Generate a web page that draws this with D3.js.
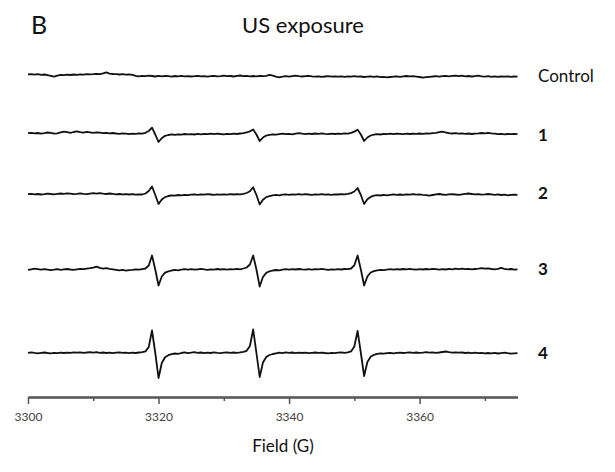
<!DOCTYPE html>
<html><head><meta charset="utf-8">
<script src="https://cdn.jsdelivr.net/npm/d3@7"></script>
<style>body{margin:0;background:#fff} svg{display:block}</style>
</head><body><svg id="c" width="615" height="472"></svg>
<script>
// ---- data ----
const seriesNames = ["Control", "1", "2", "3", "4"];
const fieldStart = 3300, fieldStep = 0.5;   // sampling grid (G)
const majorTicks = [3300, 3320, 3340, 3360];
const minorTicks = [3310, 3330, 3350, 3370];

const control = [
 1.6,1.9,1.4,1.8,1.2,1.5,0.9,0.2,-0.6,0.4,
 1.1,0.8,1.3,1.0,1.5,1.2,1.7,1.4,1.9,1.6,
 1.8,2.2,1.9,2.6,3.6,2.4,2.0,1.8,1.5,1.9,
 1.4,1.7,1.2,0.2,-0.4,0.1,-0.2,0.3,0.0,-0.5,
 0.1,-0.3,0.2,-0.2,-0.6,0.0,-0.3,0.1,-0.4,-0.1,
 -0.5,-0.2,0.2,-0.3,-0.1,-0.6,-0.2,0.1,-0.4,-0.1,
 0.3,-0.2,0.0,-0.5,0.1,0.5,-0.1,0.2,-0.3,0.0,
 -0.4,0.1,-0.2,0.2,1.2,0.4,-0.6,-1.3,-0.7,-0.2,
 -0.6,-0.1,0.3,-0.2,-0.5,-0.1,0.2,-0.3,-0.7,-0.4,
 -0.9,-0.5,-0.2,-0.6,-0.3,-0.7,-0.4,-0.8,-0.3,-0.6,
 -0.2,-0.7,-0.5,-1.0,-0.6,-0.3,-0.8,-0.4,-1.1,-0.9,
 -1.4,-1.0,-0.7,-0.4,-0.8,-0.3,0.0,-0.4,-0.2,-0.6,
 -1.0,-1.6,-1.2,-0.8,-0.5,-0.1,-0.6,-0.2,0.2,-0.3,
 0.1,0.4,-0.2,0.3,-0.4,0.0,-0.5,-0.1,0.3,-0.3,
 -0.6,-0.2,-0.8,-0.4,-0.9,-0.5,-0.7,-0.3,-0.8,-0.5,
 -0.6];
const exposure1 = [
 0.8,1.2,0.6,1.0,0.4,0.9,1.5,1.1,0.3,0.7,
 1.6,2.4,1.8,1.2,2.0,2.6,1.9,1.4,2.1,1.6,
 1.1,1.7,1.3,0.8,1.2,0.6,1.0,0.5,0.2,0.7,
 0.3,-0.2,0.4,0.1,0.6,0.4,1.2,3.0,6.3,-0.5,
 -8.0,-4.2,-1.8,-1.0,-0.4,-0.9,-0.3,-0.6,0.0,-0.4,
 -0.1,-0.5,0.1,-0.3,0.2,-0.2,0.3,-0.1,0.4,0.0,
 -0.3,0.2,-0.2,0.3,0.0,0.5,0.8,1.6,2.6,4.5,
 -0.5,-7.0,-3.6,-1.6,-0.8,-0.3,-0.7,-0.2,0.3,-0.1,
 0.2,-0.3,0.4,0.8,0.3,-0.1,0.4,0.0,0.5,0.2,
 0.6,0.2,-0.1,0.3,0.0,0.4,0.1,0.6,0.3,1.2,
 2.4,4.2,-0.5,-7.0,-3.5,-1.5,-0.6,-0.2,-0.5,0.1,
 -0.2,0.3,-0.1,0.4,0.2,-0.1,0.3,0.0,0.4,0.1,
 0.5,0.2,0.6,0.3,0.8,1.2,1.8,2.4,1.5,0.9,
 0.5,0.9,0.4,0.7,0.2,0.5,0.0,0.3,0.6,1.0,
 0.7,1.1,0.6,0.3,-0.1,0.2,-0.3,0.0,-0.2,0.1,
 -0.1];
const exposure2 = [
 0.3,0.7,0.2,0.5,0.0,0.4,0.9,0.5,0.2,0.6,
 1.0,0.6,1.2,0.8,0.4,0.7,1.1,0.6,0.3,0.8,
 1.3,0.9,1.4,0.9,0.5,1.0,0.6,0.2,0.5,0.1,
 0.4,0.0,0.3,-0.2,0.2,0.0,1.0,3.5,8.0,-0.5,
 -9.5,-5.0,-2.6,-1.5,-0.8,-1.2,-0.5,-0.9,-0.3,-0.6,
 -0.2,0.1,-0.3,0.2,-0.2,0.3,0.0,-0.4,0.1,-0.2,
 0.2,-0.1,0.3,0.0,0.4,0.1,0.7,1.5,3.2,7.2,
 -0.5,-10.0,-5.2,-2.6,-1.6,-0.9,-0.4,-0.8,-0.2,0.2,
 -0.3,0.1,-0.2,0.3,-0.1,0.4,0.0,-0.3,0.2,-0.1,
 0.3,-0.2,0.1,-0.3,0.2,0.0,0.4,0.1,0.6,1.4,
 3.0,6.5,-0.5,-9.5,-4.8,-2.4,-1.2,-0.6,-1.0,-0.4,
 -0.8,-0.3,0.1,-0.4,0.0,-0.3,0.2,-0.2,0.3,-0.1,
 0.2,-0.3,-0.6,-1.2,-0.5,0.2,0.5,0.0,-0.4,0.1,
 0.4,0.0,-0.3,0.2,0.6,1.0,0.5,0.1,0.4,-0.2,
 0.1,0.5,0.2,-0.3,0.1,-0.5,-0.2,-0.8,-0.4,-0.1,
 -0.3];
const exposure3 = [
 -0.4,0.2,0.8,0.3,-0.2,0.4,-0.1,-0.6,-0.2,0.3,
 -0.3,0.1,0.5,0.0,-0.4,0.2,0.6,0.3,0.9,1.3,
 1.8,2.8,1.6,0.9,1.3,0.6,0.2,-0.3,-0.8,-0.4,
 -1.2,-0.7,-0.3,0.2,-0.2,0.4,1.0,4.0,14.0,0.0,
 -16.0,-7.0,-3.2,-1.8,-1.0,-0.4,-0.8,-0.2,0.3,-0.1,
 0.4,-0.2,0.2,0.6,0.1,-0.3,0.2,-0.1,0.5,0.0,
 0.3,-0.2,0.4,0.1,0.6,0.2,1.0,2.0,5.0,14.0,
 0.0,-17.0,-7.5,-3.4,-1.8,-1.0,-0.5,-0.9,-0.2,0.3,
 -0.1,0.4,0.0,0.5,0.1,-0.2,0.3,-0.1,0.4,0.2,
 0.6,0.1,-0.3,0.2,-0.1,0.4,0.0,0.5,0.3,1.0,
 4.2,14.0,0.0,-16.0,-7.0,-3.0,-1.6,-0.8,-0.3,-0.7,
 -0.1,0.3,-0.2,0.4,0.0,0.5,0.1,0.6,0.2,-0.2,
 0.3,0.0,0.5,0.2,0.7,0.3,-0.1,0.4,0.0,0.6,
 0.2,0.8,0.4,0.9,0.3,0.6,0.1,0.5,0.9,1.4,
 0.8,1.2,0.5,0.1,0.6,1.6,0.7,0.2,0.5,-0.2,
 0.1];
const exposure4 = [
 0.2,0.6,0.1,-0.3,0.2,0.5,0.0,-0.4,0.1,-0.2,
 0.3,0.0,0.4,0.1,0.6,0.3,0.7,0.2,0.5,0.9,
 0.4,0.8,0.2,0.5,0.0,0.4,-0.2,0.3,0.6,0.1,
 0.4,-0.1,0.3,0.0,0.5,0.8,1.6,6.0,22.5,0.0,
 -25.0,-10.0,-4.2,-2.2,-1.2,-0.5,-0.9,0.0,0.6,-0.2,
 0.3,0.9,0.1,0.5,-0.2,0.4,0.0,0.6,0.2,-0.1,
 0.3,0.7,0.2,0.5,0.1,0.6,1.2,2.2,7.0,23.5,
 0.0,-24.0,-9.5,-4.0,-2.0,-1.0,-0.3,0.4,-0.2,0.6,
 0.1,0.5,-0.1,0.3,0.0,0.4,-0.2,0.2,0.5,0.1,
 0.4,0.0,-0.3,0.2,-0.1,0.3,0.7,0.2,0.6,1.6,
 6.5,22.0,0.0,-23.0,-9.0,-3.8,-1.8,-0.9,-0.3,-0.7,
 -0.2,0.2,-0.3,0.1,0.4,0.0,0.3,0.7,0.2,0.5,
 0.1,0.4,0.8,0.3,0.6,0.2,0.5,1.0,1.5,0.8,
 0.4,0.7,0.3,0.5,0.0,0.4,-0.1,0.3,-0.2,0.1,
 -0.4,0.0,-0.3,0.2,-0.5,-0.1,0.3,-0.2,-0.6,-0.3,
 -0.1];
const seriesValues = [control, exposure1, exposure2, exposure3, exposure4];

// ---- layout ----
const baselines = [76, 134, 194.5, 269.5, 353];
const labelBaselines = [82, 141, 199, 275, 359];
const font = "Lato, 'Open Sans', sans-serif";

const svg = d3.select("#c");
const x = d3.scaleLinear().domain([3300, 3375]).range([28, 517.5]);

const line = d3.line()
  .x((d, i) => x(fieldStart + i * fieldStep))
  .y(d => d.y)
  .curve(d3.curveLinear);

seriesValues.forEach((vals, k) => {
  const y = d3.scaleLinear().domain([-40, 40]).range([baselines[k] + 40, baselines[k] - 40]);
  svg.append("path")
    .datum(vals.map(v => ({ y: y(v) })))
    .attr("d", line)
    .attr("fill", "none")
    .attr("stroke", "#111")
    .attr("stroke-width", 1.8)
    .attr("stroke-linejoin", "round");
  svg.append("text")
    .attr("x", 538).attr("y", labelBaselines[k])
    .attr("font-family", font)
    .attr("font-size", 17)
    .attr("font-weight", k === 0 ? 400 : 700)
    .attr("fill", "#111")
    .text(seriesNames[k]);
});

// axis
const axisY = 397;
const gMinor = svg.append("g").attr("transform", `translate(0,${axisY})`)
  .call(d3.axisBottom(x).tickValues(minorTicks).tickSize(4).tickSizeOuter(0).tickFormat(""));
const gMajor = svg.append("g").attr("transform", `translate(0,${axisY})`)
  .call(d3.axisBottom(x).tickValues(majorTicks).tickSize(7).tickSizeOuter(0).tickPadding(8).tickFormat(d3.format("d")));
[gMinor, gMajor].forEach(g => {
  g.selectAll("path.domain").attr("stroke", "#555").attr("stroke-width", 2);
  g.selectAll(".tick line").attr("stroke", "#555").attr("stroke-width", 1.5);
  g.selectAll(".tick text").attr("font-family", font).attr("font-size", 12).attr("fill", "#444");
});

svg.append("text").attr("x", 283).attr("y", 452).attr("text-anchor", "middle")
  .attr("font-family", font).attr("font-size", 17).attr("fill", "#111").text("Field (G)");
svg.append("text").attr("x", 303).attr("y", 33).attr("text-anchor", "middle")
  .attr("font-family", font).attr("font-size", 22).attr("fill", "#111").text("US exposure");
svg.append("text").attr("x", 31).attr("y", 34)
  .attr("font-family", font).attr("font-size", 25).attr("fill", "#111").text("B");
</script></body></html>
